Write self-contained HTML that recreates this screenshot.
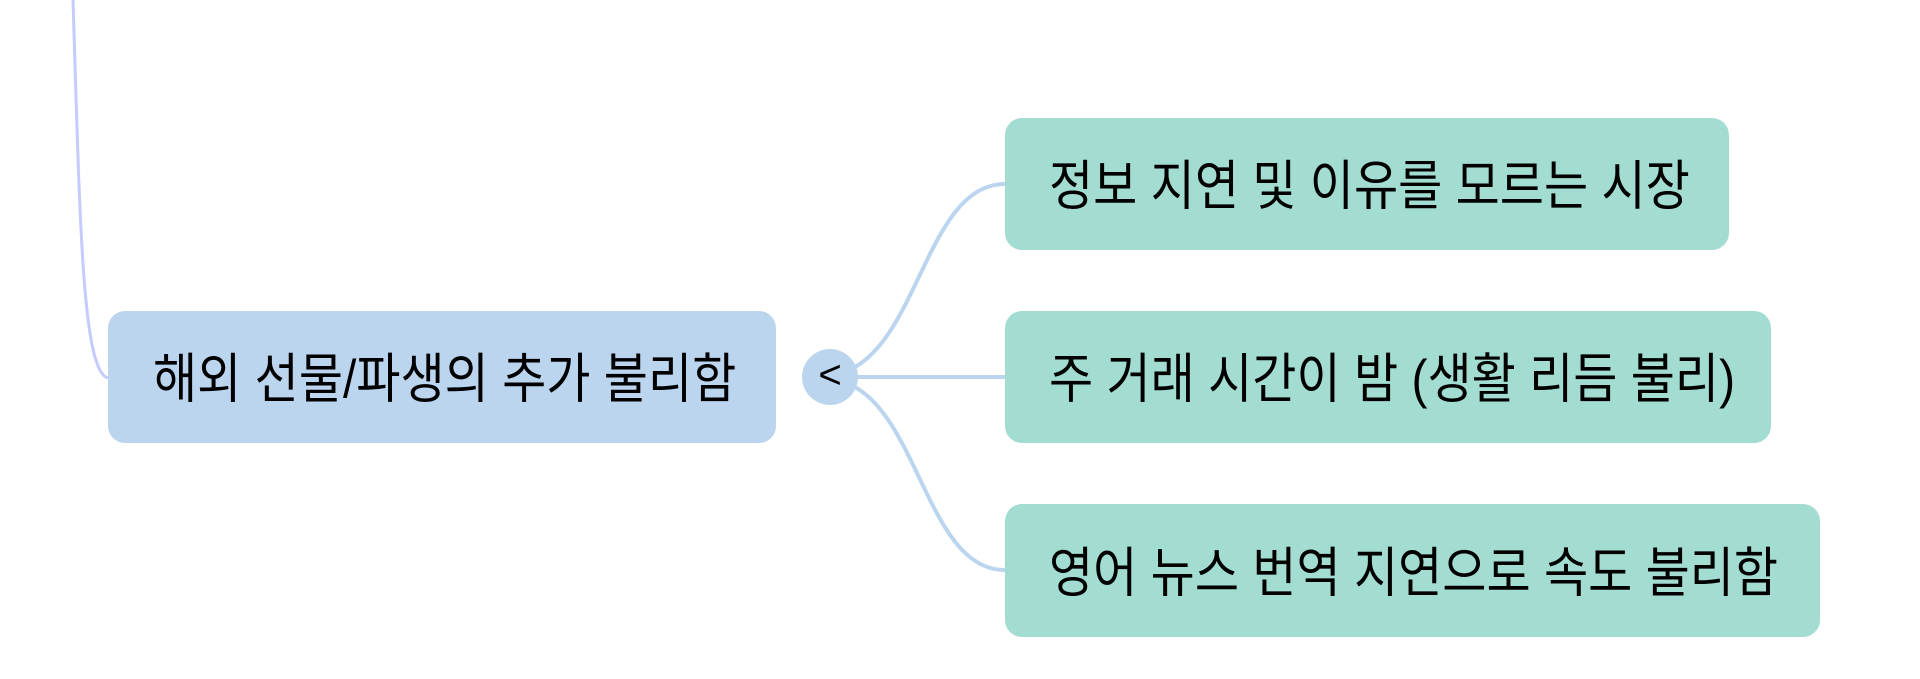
<!DOCTYPE html>
<html><head><meta charset="utf-8"><style>
html,body{margin:0;padding:0;background:#fff;}
body{width:1920px;height:679px;position:relative;overflow:hidden;font-family:"Liberation Sans","Noto Sans CJK KR",sans-serif;}
.n{position:absolute;border-radius:17px;display:flex;align-items:center;box-sizing:border-box;font-size:48px;color:#000;white-space:nowrap;padding-bottom:6px;}
.n span{display:inline-block;transform:scaleY(1.12);}
.m{left:108px;top:311px;width:668px;height:132px;background:#bcd5ef;padding-left:45px;}
.g{background:#a3ddd2;left:1005px;padding-left:44px;}
svg{position:absolute;left:0;top:0;}
.c{position:absolute;left:802px;top:349px;width:56px;height:56px;border-radius:50%;background:#bcd5ef;display:flex;align-items:center;justify-content:center;font-size:40px;padding-bottom:4px;box-sizing:border-box;}
</style></head><body>
<svg width="1920" height="679">
<path d="M73 0 C 80 220, 82 372, 108 378" stroke="#c6cbff" stroke-width="3" fill="none"/>
<path d="M855 367 C 920 330, 930 184, 1005 184" stroke="#bcd5ef" stroke-width="4" fill="none"/>
<path d="M855 377 L 1005 377" stroke="#bcd5ef" stroke-width="4" fill="none"/>
<path d="M855 387 C 920 424, 930 570, 1005 570" stroke="#bcd5ef" stroke-width="4" fill="none"/>
</svg>
<div class="n m"><span>해외 선물/파생의 추가 불리함</span></div>
<div class="c">&lt;</div>
<div class="n g" style="top:118px;width:724px;height:132px;"><span>정보 지연 및 이유를 모르는 시장</span></div>
<div class="n g" style="top:311px;width:766px;height:132px;"><span>주 거래 시간이 밤 (생활 리듬 불리)</span></div>
<div class="n g" style="top:504px;width:815px;height:133px;"><span>영어 뉴스 번역 지연으로 속도 불리함</span></div>
</body></html>
